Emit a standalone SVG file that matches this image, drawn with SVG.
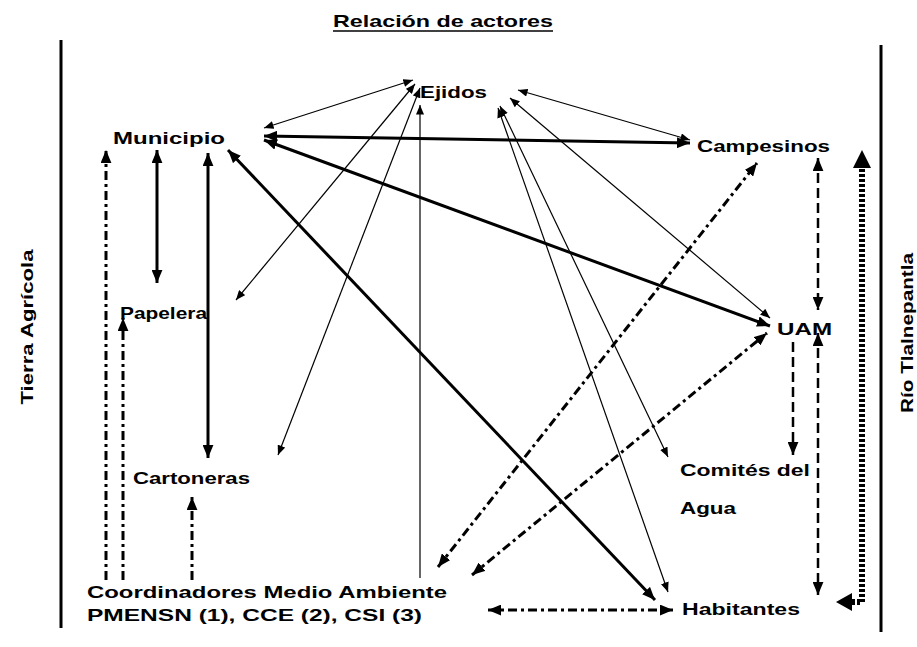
<svg xmlns="http://www.w3.org/2000/svg" width="917" height="647" viewBox="0 0 917 647">
<style>
.lbl{font-family:"Liberation Sans",Arial,sans-serif;font-weight:bold;font-size:17px;fill:#000}
.thick{stroke:#000;stroke-width:3;fill:none}
.thin{stroke:#000;stroke-width:1.2;fill:none}
.dash{stroke:#000;stroke-width:2.5;stroke-dasharray:10 5;fill:none}
.dot{stroke:#000;stroke-width:6;stroke-dasharray:3 2;fill:none}
.dd{stroke:#000;stroke-width:3;stroke-dasharray:9 4 3 4;fill:none}
.border{stroke:#000;stroke-width:3}
.head{fill:#000;stroke:none}
</style>
<defs>
<marker id="ah" viewBox="0 0 12 10" refX="12" refY="5" markerWidth="13" markerHeight="11" markerUnits="userSpaceOnUse" orient="auto-start-reverse"><path d="M0,0 L12,5 L0,10 z" fill="#000"/></marker>
<marker id="as" viewBox="0 0 12 10" refX="12" refY="5" markerWidth="10" markerHeight="8" markerUnits="userSpaceOnUse" orient="auto-start-reverse"><path d="M0,0 L12,5 L0,10 z" fill="#000"/></marker>
</defs>
<rect width="917" height="647" fill="#fff"/>

<g id="frame">
<line class="border" x1="61" y1="40" x2="61" y2="628"/>
<line class="border" x1="881" y1="45" x2="881" y2="632"/>
<text class="lbl" x="333" y="27" font-size="16" textLength="220" lengthAdjust="spacingAndGlyphs">Relación de actores</text>
<line x1="333" y1="31" x2="553" y2="31" stroke="#000" stroke-width="1.5"/>
<text class="lbl" transform="translate(33,327) rotate(-90)" text-anchor="middle" font-size="18" textLength="155" lengthAdjust="spacingAndGlyphs">Tierra Agrícola</text>
<text class="lbl" transform="translate(913,333) rotate(-90)" text-anchor="middle" font-size="17" textLength="160" lengthAdjust="spacingAndGlyphs">Río Tlalnepantla</text>
</g>

<g id="connectors">
<line class="thick" x1="264" y1="136" x2="690" y2="143" marker-start="url(#ah)" marker-end="url(#ah)"/>
<line class="thick" x1="264" y1="140" x2="770" y2="326" marker-start="url(#ah)" marker-end="url(#ah)"/>
<line class="thick" x1="228" y1="150" x2="655" y2="600" marker-start="url(#ah)" marker-end="url(#ah)"/>
<line class="thick" x1="157" y1="150" x2="157" y2="283" marker-start="url(#ah)" marker-end="url(#ah)"/>
<line class="thick" x1="208" y1="153" x2="208" y2="458" marker-start="url(#ah)" marker-end="url(#ah)"/>

<line class="thin" x1="413" y1="80" x2="264" y2="128" marker-start="url(#as)" marker-end="url(#as)"/>
<line class="thin" x1="415" y1="84" x2="236" y2="300" marker-start="url(#as)" marker-end="url(#as)"/>
<line class="thin" x1="420" y1="88" x2="278" y2="455" marker-start="url(#as)" marker-end="url(#as)"/>
<line class="thin" x1="420" y1="578" x2="420" y2="105" marker-end="url(#as)"/>
<line class="thin" x1="518" y1="90" x2="690" y2="140" marker-start="url(#as)" marker-end="url(#as)"/>
<line class="thin" x1="510" y1="98" x2="770" y2="318" marker-start="url(#as)" marker-end="url(#as)"/>
<line class="thin" x1="500" y1="106" x2="668" y2="457" marker-start="url(#as)" marker-end="url(#as)"/>
<line class="thin" x1="498" y1="108" x2="668" y2="592" marker-start="url(#as)" marker-end="url(#as)"/>

<line class="dash" x1="818" y1="158" x2="818" y2="310" marker-start="url(#ah)" marker-end="url(#ah)"/>
<line class="dash" x1="793" y1="342" x2="793" y2="455" marker-end="url(#ah)"/>
<line class="dash" x1="818" y1="333" x2="818" y2="595" marker-start="url(#ah)" marker-end="url(#ah)"/>

<polyline class="dot" points="852,602 862,602 862,168"/>
<polygon class="head" points="853,168 871,168 862,150"/>
<polygon class="head" points="852,593 852,611 836,602"/>

<line class="dd" x1="488" y1="610" x2="673" y2="610" marker-start="url(#ah)" marker-end="url(#ah)"/>
<line class="dd" x1="438" y1="567" x2="757" y2="163" marker-start="url(#ah)" marker-end="url(#ah)"/>
<line class="dd" x1="472" y1="575" x2="767" y2="333" marker-start="url(#ah)" marker-end="url(#ah)"/>
<line class="dd" x1="106" y1="580" x2="106" y2="150" marker-end="url(#ah)"/>
<line class="dd" x1="123" y1="580" x2="123" y2="318" marker-end="url(#ah)"/>
<line class="dd" x1="192" y1="580" x2="192" y2="497" marker-end="url(#ah)"/>
</g>

<g id="ejidos"><text class="lbl" x="420" y="98" textLength="67" lengthAdjust="spacingAndGlyphs">Ejidos</text></g>
<g id="municipio"><text class="lbl" x="113" y="144" textLength="112" lengthAdjust="spacingAndGlyphs">Municipio</text></g>
<g id="campesinos"><text class="lbl" x="697" y="152" textLength="133" lengthAdjust="spacingAndGlyphs">Campesinos</text></g>
<g id="papelera"><text class="lbl" x="120" y="319" textLength="87" lengthAdjust="spacingAndGlyphs">Papelera</text></g>
<g id="uam"><text class="lbl" x="777" y="335" textLength="55" lengthAdjust="spacingAndGlyphs">UAM</text></g>
<g id="cartoneras"><text class="lbl" x="133" y="484" textLength="117" lengthAdjust="spacingAndGlyphs">Cartoneras</text></g>
<g id="comites"><text class="lbl" x="680" y="476" textLength="130" lengthAdjust="spacingAndGlyphs">Comités del</text><text class="lbl" x="680" y="514" textLength="56" lengthAdjust="spacingAndGlyphs">Agua</text></g>
<g id="coordinadores"><text class="lbl" x="87" y="598" textLength="360" lengthAdjust="spacingAndGlyphs">Coordinadores Medio Ambiente</text><text class="lbl" x="87" y="621" textLength="335" lengthAdjust="spacingAndGlyphs">PMENSN (1), CCE (2), CSI (3)</text></g>
<g id="habitantes"><text class="lbl" x="682" y="615" textLength="118" lengthAdjust="spacingAndGlyphs">Habitantes</text></g>
</svg>
